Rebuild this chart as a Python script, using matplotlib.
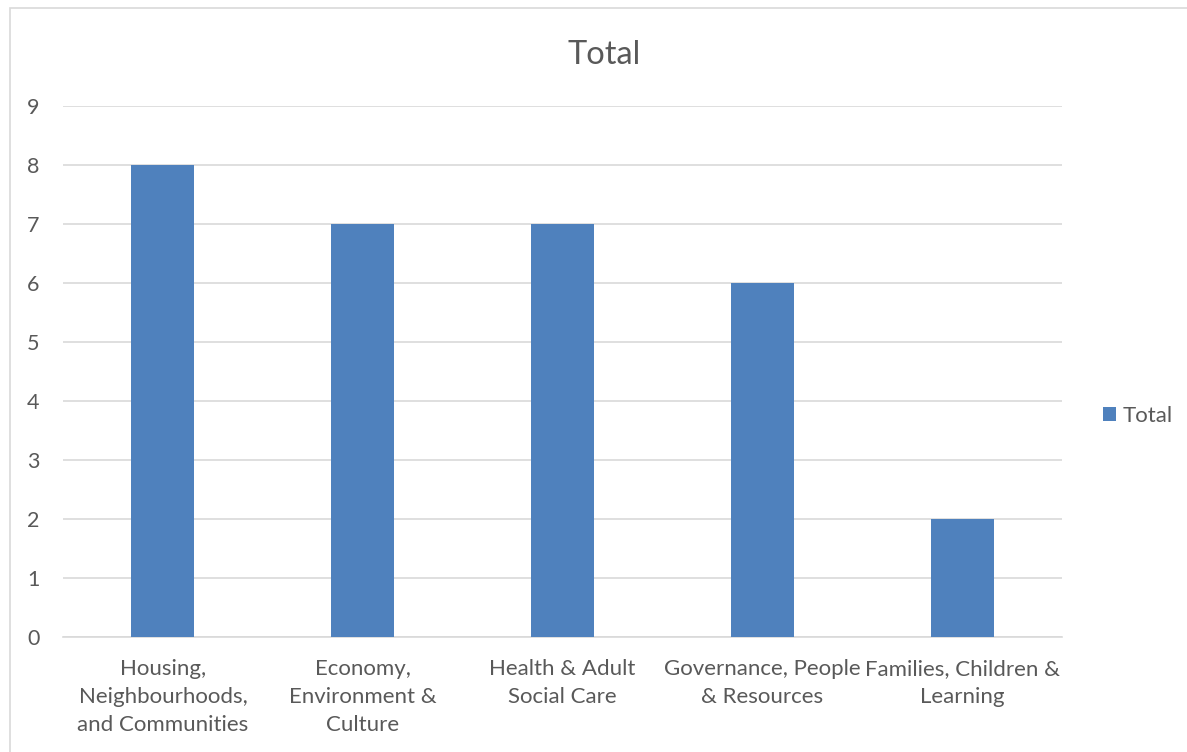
import matplotlib
matplotlib.use("Agg")
import matplotlib.pyplot as plt
from matplotlib.patches import Rectangle

categories = ["Housing,\nNeighbourhoods,\nand Communities",
              "Economy,\nEnvironment &\nCulture",
              "Health & Adult\nSocial Care",
              "Governance, People\n& Resources",
              "Families, Children &\nLearning"]
values = [8, 7, 7, 6, 2]
series_name = "Total"
yticks = list(range(0, 10))

plt.rcParams['font.family'] = ['Lato', 'DejaVu Sans']
txt = '#595959'

fig = plt.figure(figsize=(11.87, 7.52), dpi=100)
fig.patches.append(Rectangle((10/1187, -0.1), 1.2, 1 - 8/752 + 0.1, transform=fig.transFigure,
                             fill=False, edgecolor='#D9D9D9', linewidth=1.2))
ax = fig.add_axes([63/1187, 1 - 637/752, (1062-63)/1187, (637-106)/752])
x = list(range(len(categories)))
ax.bar(x, values, width=0.315, color='#4F81BD', label=series_name, zorder=3)
ax.set_xlim(-0.5, len(categories) - 0.5)
ax.set_ylim(0, 9)
ax.set_yticks(yticks)
ax.yaxis.grid(True, color='#D9D9D9', linewidth=1.2, zorder=0)
for s in ['top', 'right', 'left']:
    ax.spines[s].set_visible(False)
ax.spines['bottom'].set_color('#D9D9D9')
ax.spines['bottom'].set_linewidth(1.2)
ax.set_xticks(x)
ax.set_xticklabels(categories, fontsize=16, color=txt, linespacing=1.5)
ax.tick_params(axis='y', labelsize=15.5, labelcolor=txt, length=0, pad=17)
ax.tick_params(axis='x', length=0, pad=16)
fig.text(604/1187, 1 - 55/752, "Total", fontsize=23.5, color=txt, ha='center', va='center')
fig.legend(handles=ax.get_legend_handles_labels()[0], labels=[series_name],
           loc='center left', bbox_to_anchor=(1103/1187, 1 - 416/752), frameon=False,
           fontsize=16, labelcolor=txt, handlelength=0.6, handleheight=0.6,
           handletextpad=0.3, borderaxespad=0, borderpad=0)
fig.savefig("out.png", dpi=100)
